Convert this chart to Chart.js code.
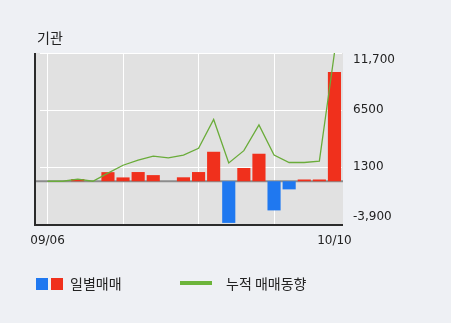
<!DOCTYPE html>
<html>
<head>
<meta charset="utf-8">
<script src="https://cdn.jsdelivr.net/npm/chart.js@4"></script>
<style>
    html, body { margin: 0; padding: 0; background: #eef0f4; }
    #wrap { position: relative; width: 451px; height: 323px; font-family: "Noto Sans CJK KR", sans-serif; color: #222; }
    #title { position: absolute; left: 37px; top: 27px; font-size: 14px; }
    #chart { position: absolute; left: 0; top: 0; }
    .legend { position: absolute; top: 275px; font-size: 14px; line-height: 16px; }
    .sq { display: inline-block; width: 12px; height: 12px; vertical-align: -1px; }
</style>
</head>
<body>
<div id="wrap">
    <canvas id="chart" width="451" height="323"></canvas>
    <div id="title">기관</div>
    <div class="legend" style="left:36px"><span class="sq" style="background:#1f78f0"></span><span class="sq" style="background:#f0301c;margin-left:3px"></span><span style="margin-left:7px">일별매매</span></div>
    <div class="legend" style="left:180px"><span style="display:inline-block;width:32px;height:4px;background:#6cb43a;vertical-align:4px"></span><span style="margin-left:14px">누적 매매동향</span></div>
</div>
<script>
const dates = ['09/06', '09/07', '09/10', '09/11', '09/12', '09/13', '09/14', '09/17', '09/18', '09/19',
               '09/20', '09/21', '09/27', '09/28', '10/01', '10/02', '10/04', '10/05', '10/08', '10/10'];
const daily = [0, 0, 200, 0, 830, 350, 840, 560, 0, 360,
               840, 2690, -3800, 1210, 2510, -2660, -740, 160, 160, 9970];
const cumulative = [0, 0, 200, 0, 740, 1460, 1920, 2290, 2140, 2390,
                    3000, 5640, 1670, 2790, 5140, 2390, 1710, 1710, 1830, 11700];
const yTicks = [-3900, 1300, 6500, 11700];
const yTickLabels = ['-3,900', '1300', '6500', '11,700'];

const plotFrame = {
    id: 'plotFrame',
    beforeDraw(chart) {
        const a = chart.chartArea, ctx = chart.ctx;
        ctx.save();
        ctx.fillStyle = '#e1e1e1';
        ctx.fillRect(36, a.top, a.right + 1 - 36, a.bottom - a.top);
        ctx.restore();
    },
    afterDatasetsDraw(chart) {
        const a = chart.chartArea, ctx = chart.ctx;
        ctx.save();
        ctx.strokeStyle = '#2b2b2b';
        ctx.lineWidth = 2;
        ctx.beginPath();
        ctx.moveTo(35, a.top);
        ctx.lineTo(35, a.bottom + 1);
        ctx.lineTo(a.right + 1, a.bottom + 1);
        ctx.stroke();
        ctx.restore();
    }
};

const zeroLine = {
    id: 'zeroLine',
    beforeDatasetsDraw(chart) {
        const a = chart.chartArea, ctx = chart.ctx;
        const y = chart.scales.y.getPixelForValue(0);
        ctx.save();
        ctx.strokeStyle = '#8c8c8c';
        ctx.lineWidth = 2;
        ctx.beginPath();
        ctx.moveTo(36, y);
        ctx.lineTo(a.right + 1, y);
        ctx.stroke();
        ctx.restore();
    }
};

new Chart(document.getElementById('chart').getContext('2d'), {
    type: 'bar',
    data: {
        labels: dates,
        datasets: [{
            type: 'line',
            data: cumulative,
            borderColor: '#6aac3a',
            borderWidth: 1.3,
            pointRadius: 0,
            tension: 0,
            order: 0
        }, {
            data: daily,
            backgroundColor: daily.map(v => v < 0 ? '#1f78f0' : '#f0301c'),
            barPercentage: 0.87,
            categoryPercentage: 1.0,
            order: 1
        }]
    },
    options: {
        responsive: false,
        animation: false,
        layout: { padding: { left: 40, top: 53, right: 0, bottom: 0 } },
        plugins: { legend: { display: false }, tooltip: { enabled: false } },
        scales: {
            x: {
                offset: true,
                afterFit: (scale) => { scale.height = 99; },
                border: { display: false },
                grid: {
                    offset: false,
                    drawTicks: false,
                    color: (ctx) => (ctx.index % 5 === 0 ? '#ffffff' : 'rgba(0,0,0,0)'),
                    lineWidth: 1
                },
                ticks: {
                    autoSkip: false,
                    maxRotation: 0,
                    padding: 10,
                    color: '#222',
                    font: { family: 'DejaVu Sans', size: 12 },
                    callback: (v, i) => (i === 0 || i === dates.length - 1 ? dates[i] : '')
                }
            },
            y: {
                position: 'right',
                min: -3900,
                max: 11700,
                afterFit: (scale) => { scale.width = 109; },
                afterBuildTicks: (scale) => { scale.ticks = yTicks.map(v => ({ value: v })); },
                border: { display: false },
                grid: { color: '#ffffff', lineWidth: 1, drawTicks: false },
                ticks: {
                    padding: 11,
                    color: '#222',
                    font: { family: 'DejaVu Sans', size: 12 },
                    callback: (v, i) => {
                        const t = yTickLabels[yTicks.indexOf(v)];
                        if (v === yTicks[yTicks.length - 1]) return ['', t];
                        if (v === yTicks[0]) return [t, ''];
                        return t;
                    }
                }
            }
        }
    },
    plugins: [plotFrame, zeroLine]
});
</script>
</body>
</html>
